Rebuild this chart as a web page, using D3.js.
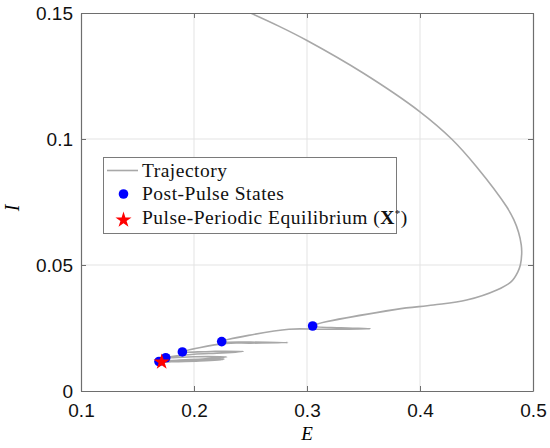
<!DOCTYPE html>
<html>
<head>
<meta charset="utf-8">
<script src="https://cdn.jsdelivr.net/npm/d3@7"></script>
<style>
  body { margin: 0; background: #fff; }
  svg { display: block; }
</style>
</head>
<body>
<svg id="chart" width="550" height="448"></svg>
<script>
// Axis ticks
const xTicks = [0.1, 0.2, 0.3, 0.4, 0.5];
const yTicks = [0, 0.05, 0.1, 0.15];
const xTickLabels = ['0.1', '0.2', '0.3', '0.4', '0.5'];
const yTickLabels = ['0', '0.05', '0.1', '0.15'];

// Trajectory (E, I), pulse jumps included
const trajE = [0.225, 0.25, 0.275, 0.30, 0.35, 0.40, 0.428, 0.450, 0.4767, 0.483, 0.4872, 0.4896, 0.490, 0.4888, 0.4865, 0.481, 0.468, 0.4413, 0.4118, 0.379,
  0.305, 0.33, 0.356, 0.33, 0.31, 0.284,
  0.2245, 0.25, 0.283, 0.25, 0.228,
  0.1897, 0.215, 0.2436, 0.225, 0.20, 0.185,
  0.175, 0.20, 0.229, 0.21, 0.185,
  0.169, 0.20, 0.227, 0.205, 0.18,
  0.1695, 0.20, 0.226, 0.205, 0.18, 0.1714];
const trajI = [0.1550, 0.150, 0.1448, 0.1391, 0.1261, 0.1108, 0.100, 0.089, 0.0731, 0.0680, 0.0630, 0.0580, 0.0546, 0.050, 0.0472, 0.0435, 0.0401, 0.0361, 0.0341, 0.0324,
  0.0258, 0.0251, 0.0247, 0.0245, 0.0245, 0.0245,
  0.0196, 0.0194, 0.0192, 0.0190, 0.0189,
  0.0155, 0.0157, 0.0157, 0.0151, 0.0146, 0.0140,
  0.0132, 0.0136, 0.0135, 0.0128, 0.0122,
  0.0117, 0.0124, 0.0127, 0.0121, 0.0117,
  0.0116, 0.0122, 0.0125, 0.0119, 0.0116, 0.0115];

// Post-pulse states
const postE = [0.305, 0.2245, 0.1897, 0.175, 0.169];
const postI = [0.0258, 0.0196, 0.0155, 0.0132, 0.0117];

// Pulse-periodic equilibrium
const eqE = [0.1714];
const eqI = [0.0115];

const legendLabels = ['Trajectory', 'Post-Pulse States', 'Pulse-Periodic Equilibrium ('];

const svg = d3.select('#chart');
const pLeft = 81, pRight = 533, pTop = 13, pBottom = 391;

const x = d3.scaleLinear().domain([0.1, 0.5]).range([pLeft, pRight]);
const y = d3.scaleLinear().domain([0, 0.15]).range([pBottom, pTop]);

svg.append('defs').append('clipPath').attr('id', 'clip')
  .append('rect')
  .attr('x', pLeft).attr('y', pTop)
  .attr('width', pRight - pLeft).attr('height', pBottom - pTop);

// grid
const grid = svg.append('g').attr('stroke', '#e3e3e3').attr('stroke-width', 1);
grid.selectAll('.gx').data(xTicks.slice(1, -1)).enter().append('line')
  .attr('x1', d => x(d)).attr('x2', d => x(d))
  .attr('y1', pTop).attr('y2', pBottom);
grid.selectAll('.gy').data(yTicks.slice(1, -1)).enter().append('line')
  .attr('y1', d => y(d)).attr('y2', d => y(d))
  .attr('x1', pLeft).attr('x2', pRight);

// trajectory
const traj = trajE.map((e, i) => [e, trajI[i]]);
svg.append('path')
  .attr('clip-path', 'url(#clip)')
  .attr('d', d3.line().x(d => x(d[0])).y(d => y(d[1])).curve(d3.curveCatmullRom.alpha(0.5))(traj))
  .attr('fill', 'none')
  .attr('stroke', '#a8a8a8')
  .attr('stroke-width', 1.6);

// post-pulse dots
svg.selectAll('.post').data(postE).enter().append('circle')
  .attr('cx', d => x(d))
  .attr('cy', (d, i) => y(postI[i]))
  .attr('r', 4.8)
  .attr('fill', '#0000ff');

// equilibrium star
svg.selectAll('.eq').data(eqE).enter().append('path')
  .attr('d', d3.symbol().type(d3.symbolStar).size(80))
  .attr('transform', (d, i) => `translate(${x(d)},${y(eqI[i])})`)
  .attr('fill', '#ff0000');

// axes
const axisColor = '#6e6e6e';
const fmtX = (d, i) => xTickLabels[i];
const fmtY = (d, i) => yTickLabels[i];
const gx = svg.append('g').attr('transform', `translate(0,${pBottom})`)
  .call(d3.axisBottom(x).tickValues(xTicks).tickFormat(fmtX).tickSizeInner(-5).tickSizeOuter(0).tickPadding(13));
const gxt = svg.append('g').attr('transform', `translate(0,${pTop})`)
  .call(d3.axisTop(x).tickValues(xTicks).tickFormat('').tickSizeInner(-5).tickSizeOuter(0));
const gy = svg.append('g').attr('transform', `translate(${pLeft},0)`)
  .call(d3.axisLeft(y).tickValues(yTicks).tickFormat(fmtY).tickSizeInner(-5).tickSizeOuter(0).tickPadding(8));
const gyr = svg.append('g').attr('transform', `translate(${pRight},0)`)
  .call(d3.axisRight(y).tickValues(yTicks).tickFormat('').tickSizeInner(-5).tickSizeOuter(0));
[gx, gxt, gy, gyr].forEach(g => {
  g.select('.domain').attr('stroke', axisColor).attr('stroke-width', 1.2);
  g.selectAll('.tick line').attr('stroke', axisColor);
  g.selectAll('.tick text').attr('fill', '#111')
    .style('font-family', '"Liberation Sans", Arial, sans-serif').style('font-size', '19px');
});

// axis labels
svg.append('text').attr('x', (pLeft + pRight) / 2).attr('y', 440)
  .attr('text-anchor', 'middle')
  .style('font-family', '"Liberation Serif", "DejaVu Serif", serif')
  .style('font-style', 'italic').style('font-size', '19px')
  .text('E');
svg.append('text')
  .attr('transform', `translate(19,${(pTop + pBottom) / 2 + 6}) rotate(-90)`)
  .attr('text-anchor', 'middle')
  .style('font-family', '"Liberation Serif", "DejaVu Serif", serif')
  .style('font-style', 'italic').style('font-size', '20px')
  .text('I');

// legend
const lg = svg.append('g');
lg.append('rect').attr('x', 103.5).attr('y', 157.5).attr('width', 293).attr('height', 76)
  .attr('fill', '#fff').attr('stroke', '#7a7a7a').attr('stroke-width', 1);
lg.append('line').attr('x1', 107).attr('x2', 138).attr('y1', 170.5).attr('y2', 170.5)
  .attr('stroke', '#a8a8a8').attr('stroke-width', 1.6);
lg.append('circle').attr('cx', 123.5).attr('cy', 194).attr('r', 4.8).attr('fill', '#0000ff');
lg.append('path').attr('d', d3.symbol().type(d3.symbolStar).size(80)())
  .attr('transform', 'translate(123.5,220)').attr('fill', '#ff0000');
const lt = lg.selectAll('.lt').data(legendLabels).enter().append('text')
  .attr('x', 142).attr('y', (d, i) => 176.5 + i * 23.6)
  .style('font-family', '"Liberation Serif", "DejaVu Serif", serif')
  .style('font-size', '19.5px').style('letter-spacing', '0.5px').attr('fill', '#111')
  .text(d => d);
const last = d3.select(lt.nodes()[2]);
last.append('tspan').style('font-weight', 'bold').text('X');
last.append('tspan').attr('dy', -7).style('font-size', '11px').text('*');
last.append('tspan').attr('dy', 7).text(')');
</script>
</body>
</html>
